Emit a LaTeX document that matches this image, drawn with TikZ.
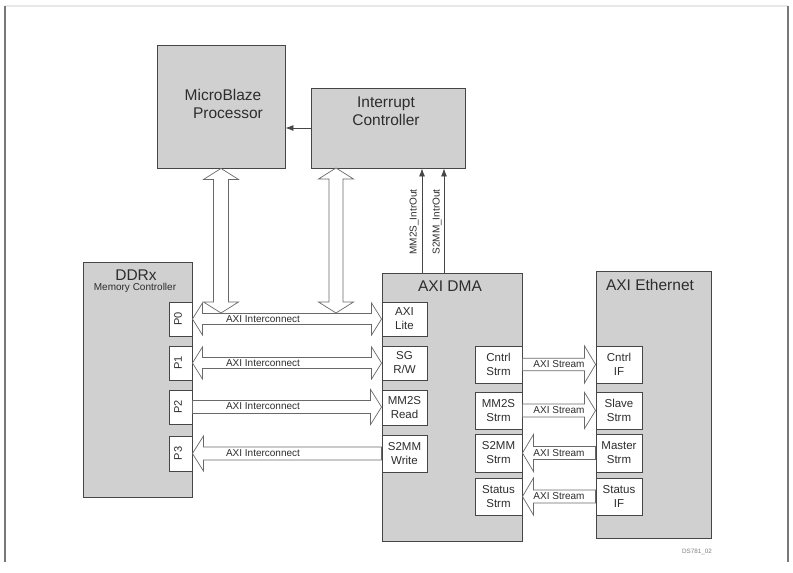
\documentclass[tikz,border=0pt]{standalone}
\usepackage{fontspec}
\setmainfont{Liberation Sans}
\usetikzlibrary{calc,arrows.meta}
\definecolor{boxgray}{RGB}{208,208,208}
\definecolor{edgec}{RGB}{70,70,70}
\definecolor{txtc}{RGB}{45,45,45}
\definecolor{arrowedge}{RGB}{105,105,105}
\definecolor{framec}{RGB}{120,120,120}
\definecolor{framelight}{RGB}{232,232,232}

% double-headed horizontal block arrow: from, to, shaft half, head half, head length
\newcommand\ArrDH[5]{\draw[blockarrow] let \p1=(#1), \p2=(#2) in
 (\x1,\y1) -- (\x1+#5,\y1+#4) -- (\x1+#5,\y1+#3) -- (\x2-#5,\y1+#3) -- (\x2-#5,\y1+#4)
 -- (\x2,\y1) -- (\x2-#5,\y1-#4) -- (\x2-#5,\y1-#3) -- (\x1+#5,\y1-#3) -- (\x1+#5,\y1-#4) -- cycle;}
% right-pointing block arrow
\newcommand\ArrR[5]{\draw[blockarrow] let \p1=(#1), \p2=(#2) in
 (\x1,\y1+#3) -- (\x2-#5,\y1+#3) -- (\x2-#5,\y1+#4) -- (\x2,\y1) -- (\x2-#5,\y1-#4)
 -- (\x2-#5,\y1-#3) -- (\x1,\y1-#3) -- cycle;}
% left-pointing block arrow (tip at #1)
\newcommand\ArrL[5]{\draw[blockarrow] let \p1=(#1), \p2=(#2) in
 (\x2,\y1+#3) -- (\x1+#5,\y1+#3) -- (\x1+#5,\y1+#4) -- (\x1,\y1) -- (\x1+#5,\y1-#4)
 -- (\x1+#5,\y1-#3) -- (\x2,\y1-#3) -- cycle;}
% double-headed vertical block arrow: top, bottom
\newcommand\ArrDV[5]{\draw[blockarrow] let \p1=(#1), \p2=(#2) in
 (\x1,\y1) -- (\x1+#4,\y1-#5) -- (\x1+#3,\y1-#5) -- (\x1+#3,\y2+#5) -- (\x1+#4,\y2+#5)
 -- (\x1,\y2) -- (\x1-#4,\y2+#5) -- (\x1-#3,\y2+#5) -- (\x1-#3,\y1-#5) -- (\x1-#4,\y1-#5) -- cycle;}

\tikzset{
 bigbox/.style={draw=edgec, fill=boxgray, line width=0.9pt, inner sep=0pt},
 port/.style={draw=edgec, fill=white, line width=0.9pt, inner sep=0pt, text=txtc,
   font=\fontsize{11.5}{14}\selectfont, align=center},
 title/.style={text=txtc, font=\fontsize{15.5}{18}\selectfont, align=center, inner sep=0pt},
 blockarrow/.style={draw=arrowedge, fill=white, line width=0.7pt, line join=miter},
 lbl/.style={text=txtc, font=\fontsize{10}{12}\selectfont, inner sep=0pt},
 intrarrow/.style={draw=edgec, line width=0.8pt, -{Latex[length=8pt,width=6pt]}},
}

\begin{document}
\begin{tikzpicture}[x=1pt,y=-1pt]
\useasboundingbox (0,0) rectangle (793,573);
\fill[white] (0,0) rectangle (793,573);

% frame
\draw[framelight, line width=1.5pt] (4.5,6) -- (788,6);
\draw[framec, line width=2pt] (4.5,6) -- (4.5,562);
\draw[framec, line width=2pt] (788,6) -- (788,562);

% top blocks
\node[bigbox, minimum width=128pt, minimum height=123pt] (mb) at (221,106.5) {};
\node[title] (mbt) at (223,104) {MicroBlaze\\\hspace*{10pt}Processor};
\node[bigbox, minimum width=154pt, minimum height=80pt] (ic) at (388,128) {};
\node[title] (ict) at (386,111) {Interrupt\\Controller};
\draw[intrarrow] (ic.west) -- (mb.east |- ic.west);

% main blocks
\node[bigbox, minimum width=109pt, minimum height=235pt] (ddr) at (137.5,379.5) {};
\node[title] (ddrt) at (136,275) {DDRx};
\node[lbl] (ddrs) at (135,288) {Memory Controller};
\node[bigbox, minimum width=140pt, minimum height=268pt] (dma) at (452,407) {};
\node[title] (dmat) at (450,286) {AXI DMA};
\node[bigbox, minimum width=115pt, minimum height=267pt] (eth) at (653.5,404.5) {};
\node[title] (etht) at (650,285) {AXI Ethernet};

% DDR ports
\foreach \n/\y/\h/\t in {p0/319/34/P0, p1/363/34/P1, p2/407/34/P2, p3/453.5/35/P3}{
  \node[port, minimum width=23pt, minimum height=\h pt] (\n) at (180.5,\y) {};
  \node[port, draw=none, fill=none, rotate=90, font=\fontsize{11}{13}\selectfont] (\n t) at (178,\y) {\t};
}
% DMA left ports
\node[port, minimum width=45pt, minimum height=34pt] (lite) at (404.5,319) {AXI\\Lite};
\node[port, minimum width=45pt, minimum height=34pt] (sgrw) at (404.5,363) {SG\\R/W};
\node[port, minimum width=45pt, minimum height=35pt] (mm2sread) at (404.5,407.5) {MM2S\\Read};
\node[port, minimum width=45pt, minimum height=37pt] (s2mmwrite) at (404.5,453.5) {S2MM\\Write};
% DMA right ports
\node[port, minimum width=47pt, minimum height=37pt] (cntrlstrm) at (498.5,364.5) {Cntrl\\Strm};
\node[port, minimum width=47pt, minimum height=37pt] (mm2sstrm) at (498.5,410.5) {MM2S\\Strm};
\node[port, minimum width=47pt, minimum height=38pt] (s2mmstrm) at (498.5,453) {S2MM\\Strm};
\node[port, minimum width=47pt, minimum height=37pt] (statusstrm) at (498.5,496.5) {Status\\Strm};
% Ethernet ports
\node[port, minimum width=46pt, minimum height=37pt] (cntrlif) at (619,364.5) {Cntrl\\IF};
\node[port, minimum width=46pt, minimum height=37pt] (slave) at (619,410.5) {Slave\\Strm};
\node[port, minimum width=46pt, minimum height=38pt] (master) at (619,453) {Master\\Strm};
\node[port, minimum width=46pt, minimum height=37pt] (statusif) at (619,496.5) {Status\\IF};

% AXI interconnect arrows
\ArrDH{p0.east}{lite.west}{5.5pt}{16pt}{10pt}
\ArrDH{p1.east}{sgrw.west}{5.5pt}{16pt}{10pt}
\ArrR{p2.east}{mm2sread.west}{6.5pt}{17.5pt}{11pt}
\ArrL{p3.east}{s2mmwrite.west}{6.5pt}{17.5pt}{11pt}
\foreach \n/\y in {l0/319, l1/363, l2/406.5, l3/453}{
  \node[lbl] (\n) at (263,\y) {AXI Interconnect};
}

% vertical bus arrows
\coordinate (v1b) at (221,313);
\coordinate (v2t) at (336,168);
\coordinate (v2b) at (336,313);
\ArrDV{mb.south}{v1b}{7.5pt}{17.5pt}{11pt}
\ArrDV{v2t}{v2b}{7pt}{17.5pt}{11pt}

% AXI stream arrows
\ArrR{cntrlstrm.east}{cntrlif.west}{6.2pt}{18.5pt}{11pt}
\ArrR{mm2sstrm.east}{slave.west}{6.5pt}{18pt}{11pt}
\ArrL{s2mmstrm.east}{master.west}{6.5pt}{18.5pt}{11pt}
\ArrL{statusstrm.east}{statusif.west}{6.5pt}{18.5pt}{11pt}
\node[lbl] (s0) at ($(cntrlstrm.east)!0.5!(cntrlif.west)$) {AXI Stream};
\node[lbl] (s1) at ($(mm2sstrm.east)!0.5!(slave.west)$) {AXI Stream};
\node[lbl] (s2) at ($(s2mmstrm.east)!0.5!(master.west)$) {AXI Stream};
\node[lbl] (s3) at ($(statusstrm.east)!0.5!(statusif.west)$) {AXI Stream};

% interrupt lines
\draw[intrarrow] ([xshift=-30pt]dma.north) -- ([xshift=-30pt]dma.north |- ic.south);
\draw[intrarrow] ([xshift=-8pt]dma.north) -- ([xshift=-8pt]dma.north |- ic.south);
\node[lbl, rotate=90] (i1) at (414,222) {MM2S\_IntrOut};
\node[lbl, rotate=90] (i2) at (437,222) {S2MM\_IntrOut};

% figure id
\node[lbl, text=gray, font=\fontsize{6.3}{7}\selectfont] (fid) at (697,552) {DS781\_02};
\end{tikzpicture}
\end{document}
